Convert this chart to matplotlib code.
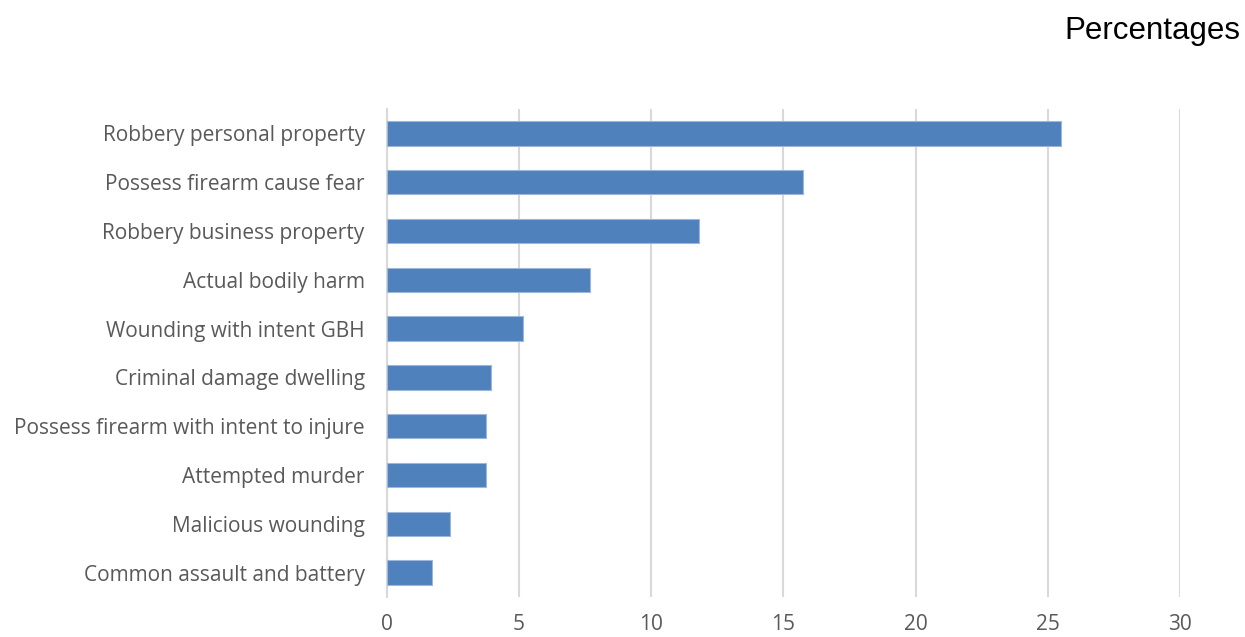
import matplotlib
matplotlib.use("Agg")
import matplotlib.pyplot as plt
import numpy as np

# Offence categories (top to bottom) and their share in percent
categories = [
    "Robbery personal property",
    "Possess firearm cause fear",
    "Robbery business property",
    "Actual bodily harm",
    "Wounding with intent GBH",
    "Criminal damage dwelling",
    "Possess firearm with intent to injure",
    "Attempted murder",
    "Malicious wounding",
    "Common assault and battery",
]
percentages = [25.5, 15.75, 11.8, 7.7, 5.15, 3.95, 3.75, 3.75, 2.4, 1.7]
x_ticks = [0, 5, 10, 15, 20, 25, 30]

fig = plt.figure(figsize=(12.45, 6.37), dpi=100)
ax = fig.add_axes([0.3108, 0.0628, 0.637, 0.766])

y_pos = np.arange(len(categories))
ax.barh(y_pos, percentages, height=0.5, color="#4F81BD",
        edgecolor="#9DB7DA", linewidth=0.8, zorder=3)

ax.set_ylim(len(categories) - 0.5, -0.5)
ax.set_xlim(0, 30)
ax.set_xticks(x_ticks)
ax.set_yticks(y_pos)
ax.set_yticklabels(categories, fontfamily="Open Sans", fontsize=15, color="#595959")
for lbl in ax.get_xticklabels():
    lbl.set_fontfamily("Open Sans")
    lbl.set_fontsize(15)
    lbl.set_color("#595959")

ax.tick_params(axis="both", length=0)
ax.tick_params(axis="y", pad=16)
ax.tick_params(axis="x", pad=12)
ax.grid(axis="x", color="#D9D9D9", linewidth=1.5, zorder=0)
for side in ["top", "right", "bottom"]:
    ax.spines[side].set_visible(False)
ax.spines["left"].set_color("#D9D9D9")
ax.spines["left"].set_linewidth(1.5)

fig.text(0.996, 0.952, "Percentages", ha="right", va="center",
         fontfamily="Liberation Sans", fontsize=22.5, color="black")

fig.savefig("out.png", dpi=100)
